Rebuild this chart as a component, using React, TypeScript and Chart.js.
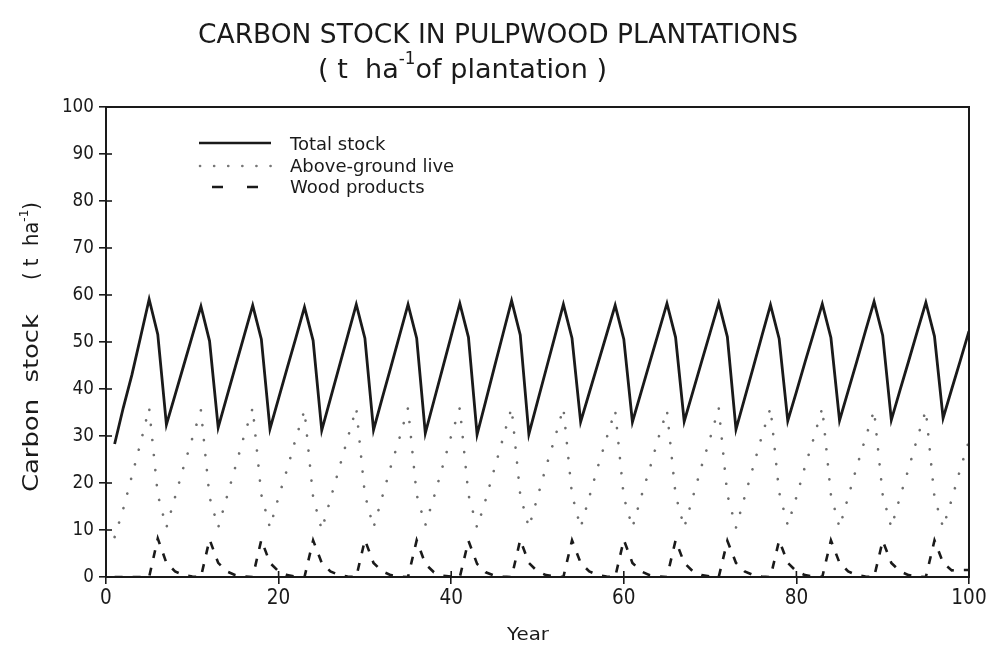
import React, { useEffect, useRef } from "react";
import { Chart, registerables } from "chart.js";

Chart.register(...registerables);

// ---------- data ----------
const years = [
  1, 2, 3, 4, 5, 6, 7, 8, 9, 10,
  11, 12, 13, 14, 15, 16, 17, 18, 19, 20,
  21, 22, 23, 24, 25, 26, 27, 28, 29, 30,
  31, 32, 33, 34, 35, 36, 37, 38, 39, 40,
  41, 42, 43, 44, 45, 46, 47, 48, 49, 50,
  51, 52, 53, 54, 55, 56, 57, 58, 59, 60,
  61, 62, 63, 64, 65, 66, 67, 68, 69, 70,
  71, 72, 73, 74, 75, 76, 77, 78, 79, 80,
  81, 82, 83, 84, 85, 86, 87, 88, 89, 90,
  91, 92, 93, 94, 95, 96, 97, 98, 99, 100,
];

const totalStock = [
  28.3, 36.0, 43.0, 51.0, 59.1, 51.6, 32.4, 38.7, 45.0, 51.3,
  57.6, 50.2, 31.8, 38.3, 44.8, 51.3, 57.8, 50.6, 31.5, 38.0,
  44.5, 50.9, 57.4, 50.3, 31.2, 37.9, 44.6, 51.3, 58.0, 50.8,
  31.3, 38.0, 44.6, 51.3, 58.0, 50.8, 30.6, 37.5, 44.4, 51.3,
  58.2, 51.0, 30.3, 37.4, 44.6, 51.7, 58.8, 51.5, 30.4, 37.3,
  44.2, 51.1, 58.0, 50.8, 33.0, 39.2, 45.4, 51.6, 57.8, 50.6,
  33.0, 39.3, 45.6, 51.9, 58.2, 51.0, 33.1, 39.4, 45.7, 52.0,
  58.3, 51.1, 31.4, 38.0, 44.6, 51.3, 57.9, 50.7, 33.2, 39.4,
  45.7, 51.9, 58.1, 50.9, 33.3, 39.6, 45.9, 52.3, 58.6, 51.4,
  33.4, 39.7, 45.9, 52.2, 58.4, 51.2, 33.8, 40.0, 46.1, 52.3,
];

const aboveGroundLive = [
  8.5, 14.5, 21.5, 28.5, 36.0, 17.5, 10.5, 17.0, 23.5, 29.5,
  35.5, 17.0, 10.5, 17.0, 23.5, 30.0, 36.0, 17.5, 10.5, 17.0,
  23.0, 29.5, 35.5, 17.0, 10.0, 16.5, 23.0, 29.5, 36.0, 17.5,
  10.5, 17.0, 23.5, 29.5, 36.0, 17.5, 11.0, 17.0, 23.5, 30.0,
  36.0, 17.5, 10.5, 16.5, 23.0, 29.5, 36.0, 17.5, 10.5, 17.0,
  23.5, 29.5, 36.0, 17.5, 10.5, 17.0, 23.5, 29.5, 35.5, 17.0,
  10.5, 17.0, 23.0, 29.5, 35.5, 17.5, 10.5, 17.0, 23.5, 29.5,
  36.0, 17.5, 10.5, 17.0, 23.5, 30.0, 36.0, 18.0, 11.0, 17.0,
  23.5, 29.5, 36.0, 17.5, 10.5, 17.0, 23.5, 29.5, 35.5, 17.5,
  10.5, 17.0, 23.0, 29.5, 35.5, 17.0, 10.5, 16.5, 23.0, 29.0,
];

const woodProducts = [
  0, 0, 0, 0, 0, 8.2, 3.0, 1.2, 0.4, 0.1,
  0, 8.0, 3.0, 1.2, 0.4, 0.1, 0, 7.9, 3.0, 1.2,
  0.4, 0.1, 0, 7.8, 3.0, 1.2, 0.4, 0.1, 0, 7.9,
  3.0, 1.2, 0.4, 0.1, 0, 7.8, 2.8, 1.0, 0.3, 0.1,
  0, 7.7, 2.8, 1.0, 0.3, 0.1, 0, 7.9, 3.0, 1.2,
  0.4, 0.1, 0, 7.8, 3.0, 1.2, 0.4, 0.1, 0, 7.9,
  3.0, 1.2, 0.4, 0.1, 0, 7.8, 3.0, 1.2, 0.4, 0.1,
  0, 7.7, 3.0, 1.2, 0.4, 0.1, 0, 7.8, 3.0, 1.2,
  0.4, 0.1, 0, 7.8, 3.0, 1.2, 0.4, 0.1, 0, 7.7,
  3.0, 1.2, 0.4, 0.1, 0, 7.8, 3.0, 1.4, 1.5, 1.5,
];

const xTickValues = [0, 20, 40, 60, 80, 100];
const yTickValues = [0, 10, 20, 30, 40, 50, 60, 70, 80, 90, 100];

const seriesNames = ["Total stock", "Above-ground live", "Wood products"];
const titleLine1 = "CARBON STOCK IN PULPWOOD PLANTATIONS";
const titleLine2Parts = [
  { text: "( t  ha" },
  { text: "-1", sup: true },
  { text: "of plantation )" },
];
const yTitleMain = "Carbon  stock";
const yTitleUnitParts = [{ text: "( t  ha" }, { text: "-1", sup: true }, { text: ")" }];
const xTitle = "Year";

const FONT = "'DejaVu Sans', 'Noto Sans', sans-serif";
const INK = "#1a1a1a";

type Part = { text: string; sup?: boolean };

function drawRich(
  ctx: CanvasRenderingContext2D,
  parts: Part[],
  x: number,
  y: number,
  targetW: number | null,
  size: number,
  align: "left" | "center" | "right" = "left"
) {
  const supSize = size * 0.62;
  let total = 0;
  const widths: number[] = [];
  for (const p of parts) {
    ctx.font = `${p.sup ? supSize : size}px ${FONT}`;
    const w = ctx.measureText(p.text).width;
    widths.push(w);
    total += w;
  }
  const s = targetW ? targetW / total : 1;
  const drawnW = total * s;
  const startX = align === "left" ? x : align === "center" ? x - drawnW / 2 : x - drawnW;
  ctx.save();
  ctx.translate(startX, y);
  ctx.scale(s, 1);
  ctx.textAlign = "left";
  ctx.textBaseline = "middle";
  let cx = 0;
  parts.forEach((p, i) => {
    ctx.font = `${p.sup ? supSize : size}px ${FONT}`;
    ctx.fillText(p.text, cx, p.sup ? -size * 0.42 : 0);
    cx += widths[i];
  });
  ctx.restore();
}

function drawScaledLabel(
  ctx: CanvasRenderingContext2D,
  text: string,
  x: number,
  y: number,
  size: number,
  sx: number,
  align: "center" | "right"
) {
  ctx.font = `${size}px ${FONT}`;
  const w = ctx.measureText(text).width * sx;
  const startX = align === "center" ? x - w / 2 : x - w;
  ctx.save();
  ctx.translate(startX, y);
  ctx.scale(sx, 1);
  ctx.textAlign = "left";
  ctx.textBaseline = "middle";
  ctx.fillText(text, 0, 0);
  ctx.restore();
}

const decorPlugin = {
  id: "decor",
  afterDraw(chart: any) {
    const ctx: CanvasRenderingContext2D = chart.ctx;
    const { left, right, top, bottom } = chart.chartArea;
    const xs = chart.scales.x;
    const ys = chart.scales.y;
    ctx.save();
    ctx.strokeStyle = INK;
    ctx.fillStyle = INK;
    // frame
    ctx.lineWidth = 2;
    ctx.strokeRect(left, top, right - left, bottom - top);
    // inward tick marks + tick labels
    ctx.lineWidth = 1.6;
    yTickValues.forEach((v) => {
      const py = ys.getPixelForValue(v);
      ctx.beginPath();
      ctx.moveTo(left, py);
      ctx.lineTo(left + 6, py);
      ctx.stroke();
      drawScaledLabel(ctx, String(v), left - 12, py, 20, 0.84, "right");
    });
    xTickValues.forEach((v) => {
      const px = xs.getPixelForValue(v);
      ctx.beginPath();
      ctx.moveTo(px, bottom);
      ctx.lineTo(px, bottom - 6);
      ctx.stroke();
      drawScaledLabel(ctx, String(v), px, bottom + 22, 21, 0.88, "center");
    });

    // title
    drawRich(ctx, [{ text: titleLine1 }], 198, 36, 600, 27);
    drawRich(ctx, titleLine2Parts, 318, 71, 289, 27);

    // y title (rotated)
    ctx.save();
    ctx.translate(33, 492);
    ctx.rotate(-Math.PI / 2);
    drawRich(ctx, [{ text: yTitleMain }], 0, 0, 178, 21);
    drawRich(ctx, yTitleUnitParts, 212, 0, 78, 21);
    ctx.restore();

    // x title
    drawRich(ctx, [{ text: xTitle }], 507, 636, 42, 17);

    // legend
    ctx.lineCap = "butt";
    ctx.setLineDash([]);
    ctx.lineWidth = 2.6;
    ctx.beginPath();
    ctx.moveTo(199, 143);
    ctx.lineTo(271, 143);
    ctx.stroke();

    ctx.save();
    ctx.strokeStyle = "#777";
    ctx.lineWidth = 2.6;
    ctx.lineCap = "round";
    ctx.setLineDash([0.1, 14]);
    ctx.beginPath();
    ctx.moveTo(200, 166);
    ctx.lineTo(272, 166);
    ctx.stroke();
    ctx.restore();

    ctx.save();
    ctx.lineWidth = 2.6;
    ctx.setLineDash([11, 24]);
    ctx.beginPath();
    ctx.moveTo(212, 187);
    ctx.lineTo(258, 187);
    ctx.stroke();
    ctx.restore();

    drawRich(ctx, [{ text: seriesNames[0] }], 290, 145, null, 18);
    drawRich(ctx, [{ text: seriesNames[1] }], 290, 167, null, 18);
    drawRich(ctx, [{ text: seriesNames[2] }], 290, 188, null, 18);

    ctx.restore();
  },
};

export default function App() {
  const canvasRef = useRef<HTMLCanvasElement | null>(null);

  useEffect(() => {
    document.body.style.margin = "0";
    const canvas = canvasRef.current;
    if (!canvas) return;

    const toPoints = (vals: number[]) => years.map((x, i) => ({ x, y: vals[i] }));

    const chart = new Chart(canvas, {
      type: "line",
      data: {
        datasets: [
          {
            label: seriesNames[0],
            data: toPoints(totalStock),
            borderColor: INK,
            borderWidth: 2.8,
            pointRadius: 0,
            tension: 0,
            borderJoinStyle: "miter",
          },
          {
            label: seriesNames[1],
            data: toPoints(aboveGroundLive),
            borderColor: "#6e6e6e",
            borderWidth: 2.6,
            borderDash: [0.1, 15],
            borderCapStyle: "round",
            pointRadius: 0,
            tension: 0,
          },
          {
            label: seriesNames[2],
            data: toPoints(woodProducts),
            borderColor: INK,
            borderWidth: 2.6,
            borderDash: [8, 10],
            pointRadius: 0,
            tension: 0,
          },
        ],
      },
      options: {
        responsive: false,
        animation: false,
        events: [],
        layout: { padding: { left: 0, right: 23, top: 107, bottom: 0 } },
        plugins: {
          legend: { display: false },
          tooltip: { enabled: false },
          title: { display: false },
        },
        scales: {
          x: {
            type: "linear",
            min: 0,
            max: 100,
            afterFit: (s: any) => {
              s.height = 76;
            },
            afterBuildTicks: (s: any) => {
              s.ticks = xTickValues.map((v) => ({ value: v }));
            },
            ticks: { display: false },
            grid: {
              drawOnChartArea: false,
              drawTicks: true,
              tickLength: 7,
              color: INK,
              lineWidth: 1.6,
            },
            border: { color: INK, width: 2 },
          },
          y: {
            type: "linear",
            min: 0,
            max: 100,
            afterFit: (s: any) => {
              s.width = 106;
            },
            afterBuildTicks: (s: any) => {
              s.ticks = yTickValues.map((v) => ({ value: v }));
            },
            ticks: { display: false },
            grid: {
              drawOnChartArea: false,
              drawTicks: true,
              tickLength: 7,
              color: INK,
              lineWidth: 1.6,
            },
            border: { color: INK, width: 2 },
          },
        },
      },
      plugins: [decorPlugin],
    } as any);

    return () => chart.destroy();
  }, []);

  return (
    <div style={{ width: 992, height: 653, background: "#fff" }}>
      <canvas ref={canvasRef} width={992} height={653} style={{ display: "block", width: 992, height: 653 }} />
    </div>
  );
}
